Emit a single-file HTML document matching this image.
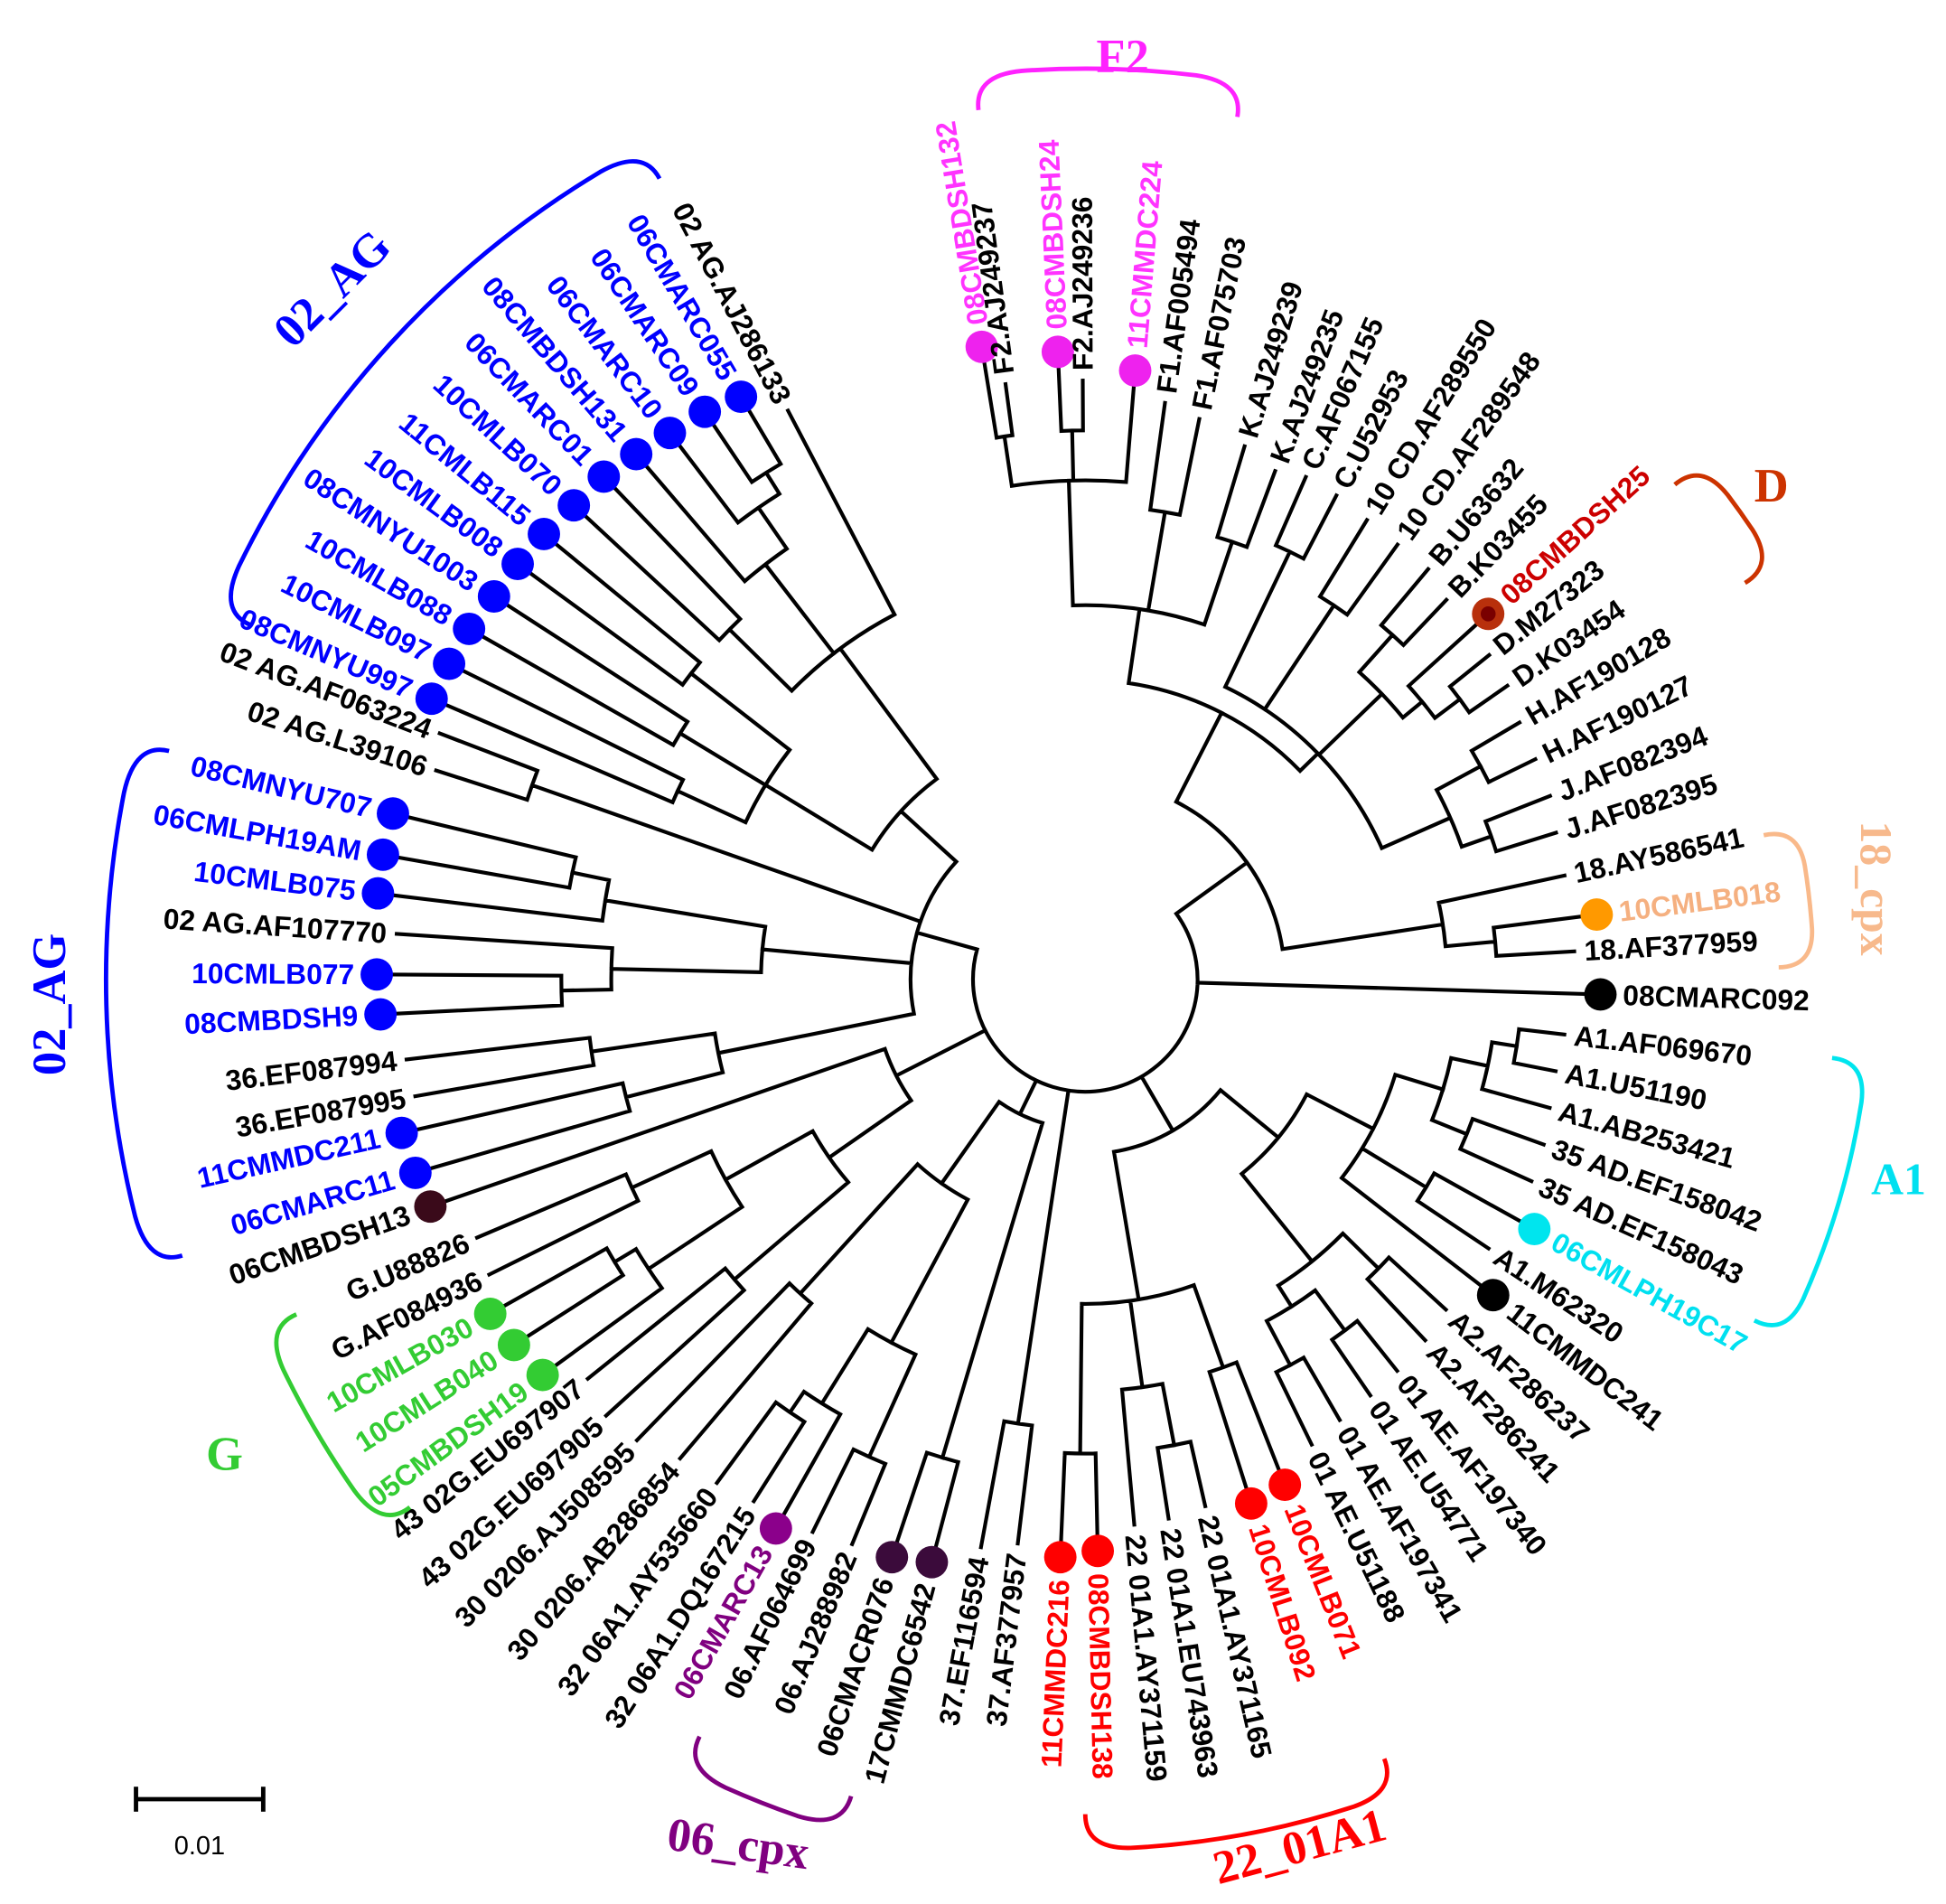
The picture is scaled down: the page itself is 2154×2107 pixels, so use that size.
<!DOCTYPE html>
<html><head><meta charset="utf-8"><style>
html,body{margin:0;padding:0;background:#fff;}
svg{display:block;}
text{font-family:"Liberation Sans",Arial,sans-serif;font-weight:bold;}
.g{font-family:"Liberation Serif","Times New Roman",serif;font-weight:bold;}
</style></head><body>
<svg id="s" xmlns="http://www.w3.org/2000/svg" width="2154" height="2107" viewBox="0 0 1560 1526">
<rect width="1560" height="1526" fill="#fff"/>
<g id="tree" stroke="#000" stroke-width="3" fill="none" stroke-linecap="square"></g>
<g id="dots"></g>
<g id="labels" font-size="23"></g>
<g id="br" fill="none" stroke-width="3.5"></g>
<text class="g" x="900" y="58" font-size="38" fill="#ff22ff" text-anchor="middle">F2</text>
<text class="g" x="1420" y="402" font-size="38" fill="#cc3300" text-anchor="middle">D</text>
<text class="g" x="1492" y="712" font-size="36" fill="#f7b98c" text-anchor="middle" transform="rotate(90 1492 712)">18_cpx</text>
<text class="g" x="1522" y="957" font-size="36" fill="#00e0f0" text-anchor="middle">A1</text>
<text class="g" x="1045" y="1492" font-size="38" fill="#ff0000" text-anchor="middle" transform="rotate(-15 1045 1492)">22_01A1</text>
<text class="g" x="590" y="1490" font-size="38" fill="#800080" text-anchor="middle" transform="rotate(8 590 1490)">06_cpx</text>
<text class="g" x="180" y="1178" font-size="38" fill="#33cc33" text-anchor="middle">G</text>
<text class="g" x="52" y="805" font-size="38" fill="#0000ff" text-anchor="middle" transform="rotate(-90 52 805)">02_AG</text>
<text class="g" x="275" y="240" font-size="38" fill="#0000ff" text-anchor="middle" transform="rotate(-45 275 240)">02_AG</text>
<g stroke="#000" stroke-width="3.5"><line x1="108" y1="1442" x2="212" y2="1442"/><line x1="109" y1="1432" x2="109" y2="1452"/><line x1="211" y1="1432" x2="211" y2="1452"/></g>
<text x="160" y="1486" font-size="21" style="font-weight:normal" text-anchor="middle">0.01</text>
</svg>
<script>
const cx=870,cy=785,NS="http://www.w3.org/2000/svg";
const BL="#0000ff",MG="#ff33ff",RD="#ff0000",GR="#33cc33",K="#000";
const L=[null,
["08CMBDSH132",787,278,MG,"#ee22ee"],["F2.AJ249237",805,300,K],["08CMBDSH24",848,282,MG,"#ee22ee"],["F2.AJ249236",868,297,K],["11CMMDC224",910,297,MG,"#ee22ee"],
["F1.AF005494",935,315,K],["F1.AF075703",963,328,K],["K.AJ249239",1000,350,K],["K.AJ249235",1025,370,K],["C.AF067155",1050,375,K],
["C.U52953",1075,390,K],["10 CD.AF289550",1100,410,K],["10 CD.AF289548",1125,430,K],["B.U63632",1150,450,K],["B.K03455",1165,475,K],
["08CMBDSH25",1193,492,"#cc0000","#b8300c"],["D.M27323",1200,520,K],["D.K03454",1215,545,K],["H.AF190128",1225,575,K],["H.AF190127",1238,605,K],
["J.AF082394",1250,635,K],["J.AF082395",1255,665,K],["18.AY586541",1262,700,K],["10CMLB018",1280,733,"#f5b080","#ff9900"],["18.AF377959",1270,762,K],
["08CMARC092",1283,797,K,"#000"],["A1.AF069670",1262,830,K],["A1.U51190",1255,860,K],["A1.AB253421",1250,890,K],["35 AD.EF158042",1245,920,K],
["35 AD.EF158043",1235,950,K],["06CMLPH19C17",1230,985,"#00e0f0","#00e5ee"],["A1.M62320",1200,1005,K],["11CMMDC241",1197,1038,K,"#000"],["A2.AF286237",1165,1055,K],
["A2.AF286241",1148,1080,K],["01 AE.AF197340",1125,1105,K],["01 AE.U54771",1103,1125,K],["01 AE.AF197341",1078,1145,K],["01 AE.U51188",1055,1165,K],
["10CMLB071",1030,1190,RD,RD],["10CMLB092",1003,1205,RD,RD],["22 01A1.AY371165",968,1215,K],["22 01A1.EU743963",938,1225,K],["22 01A1.AY371159",910,1230,K],
["08CMBDSH138",880,1243,RD,RD],["11CMMDC216",850,1248,RD,RD],["37.AF377957",815,1245,K],["37.EF116594",785,1248,K],["17CMMDC6542",747,1252,K,"#3b0b3b"],
["06CMACR076",715,1248,K,"#3b0b3b"],["06.AJ288982",680,1245,K],["06.AF064699",648,1235,K],["06CMARC13",622,1225,"#800080","#8b008b"],["32 06A1.DQ167215",600,1210,K],
["32 06A1.AY535660",570,1195,K],["30 0206.AB286854",540,1175,K],["30 0206.AJ508595",505,1160,K],["43 02G.EU697905",480,1140,K],["43 02G.EU697907",465,1110,K],
["05CMBDSH19",435,1102,GR,GR],["10CMLB040",412,1078,GR,GR],["10CMLB030",393,1053,GR,GR],["G.AF084936",385,1025,K],["G.U88826",375,995,K],
["06CMBDSH13",345,967,K,"#3a0a1a"],["06CMARC11",333,940,BL,BL],["11CMMDC211",322,908,BL,BL],["36.EF087995",325,880,K],["36.EF087994",318,850,K],
["08CMBDSH9",305,813,BL,BL],["10CMLB077",302,781,BL,BL],["02 AG.AF107770",310,748,K],["10CMLB075",303,716,BL,BL],["06CMLPH19AM",307,685,BL,BL],
["08CMNYU707",315,652,BL,BL],["02 AG.L39106",342,615,K],["02 AG.AF063224",345,585,K],["08CMNYU997",346,560,BL,BL],["10CMLB097",360,532,BL,BL],
["10CMLB088",376,504,BL,BL],["08CMNYU1003",396,478,BL,BL],["10CMLB008",415,452,BL,BL],["11CMLB115",436,428,BL,BL],["10CMLB070",460,405,BL,BL],
["06CMARC01",484,382,BL,BL],["08CMBDSH131",510,364,BL,BL],["06CMARC10",537,347,BL,BL],["06CMARC09",565,330,BL,BL],["06CMARC055",594,318,BL,BL],
["02 AG.AJ286133",628,322,K]];
let prev=-200;const ANG=[],RAD=[];
for(let i=1;i<L.length;i++){let a=Math.atan2(L[i][2]-cy,L[i][1]-cx)*180/Math.PI;while(a<prev)a+=360;prev=a;ANG[i]=a;RAD[i]=Math.hypot(L[i][1]-cx,L[i][2]-cy);}
function pt(r,a){const t=a*Math.PI/180;return [cx+r*Math.cos(t),cy+r*Math.sin(t)];}
let d="";
function line(r1,r2,a){const p=pt(r1,a),q=pt(r2,a);d+=`M${p[0].toFixed(1)},${p[1].toFixed(1)}L${q[0].toFixed(1)},${q[1].toFixed(1)}`;}
function arc(r,a1,a2){const p=pt(r,a1),q=pt(r,a2);d+=`M${p[0].toFixed(1)},${p[1].toFixed(1)}A${r},${r} 0 ${(a2-a1)>180?1:0} 1 ${q[0].toFixed(1)},${q[1].toFixed(1)}`;}
function draw(n,pr){
 if(typeof n==="number"){const tip=RAD[n]-(L[n][4]?13:8);line(pr,tip,ANG[n]);return ANG[n];}
 const r=n[0];const as=n.slice(1).map(c=>draw(c,r));const mn=Math.min(...as),mx=Math.max(...as);
 if(mx>mn)arc(r,mn,mx);const a=(mn+mx)/2;if(pr!==null)line(pr,r,a);return a;}
const A=[160,[240,[300,[400,[440,1,2],[440,3,4],5],[380,6,7],[370,8,9]],[260,[380,10,11],[360,12,13],[330,[370,14,15],[350,16,[375,17,18]]],[320,[360,19,20],[345,21,22]]]],[290,23,[330,24,25]]];
const B=[140,[200,[260,[300,[330,[350,27,28],29],[330,30,31]],[320,32,33],34],[290,[330,35,36],[310,[350,37,38],[350,39,40]]]],[260,[330,41,42],[330,[380,43,44],45],[380,46,47]]];
const C=[360,48,49];
const D=[120,[400,50,51],[200,[330,[420,52,53],[400,54,[420,55,56]]],[340,57,58]]];
const E=[170,[250,[370,59,60],[330,[420,61,[440,62,63]],[400,64,65]]],66];
const F=[140,[300,[380,67,68],[400,69,70]],[260,[380,[420,71,72],73],[390,74,[420,75,76]]],[330,[470,77,78]],[200,[300,[360,79,80],[380,81,82],[400,83,84]],[330,[400,85,86],[420,87,[460,88,[480,89,90]]],91]]];
draw([90,A,26,B,C,D,E,F],null);
const tp=document.createElementNS(NS,"path");tp.setAttribute("d",d);document.getElementById("tree").appendChild(tp);
const dg=document.getElementById("dots"),lg=document.getElementById("labels");
for(let i=1;i<L.length;i++){
 const [nm,x,y,col,dc]=L[i];const a=ANG[i];
 if(dc){const c=document.createElementNS(NS,"circle");c.setAttribute("cx",x);c.setAttribute("cy",y);c.setAttribute("r",13);c.setAttribute("fill",dc);dg.appendChild(c);
  if(i===16){const c2=document.createElementNS(NS,"circle");c2.setAttribute("cx",x);c2.setAttribute("cy",y);c2.setAttribute("r",6);c2.setAttribute("fill","#7a0000");dg.appendChild(c2);}}
 const lr=RAD[i]+(dc?18:0);const p=pt(lr,a);let an=((a%360)+360)%360;
 const t=document.createElementNS(NS,"text");t.textContent=nm;t.setAttribute("fill",col);t.setAttribute("dominant-baseline","central");
 t.setAttribute("x",p[0].toFixed(1));t.setAttribute("y",p[1].toFixed(1));
 if(an>90&&an<252){t.setAttribute("text-anchor","end");t.setAttribute("transform",`rotate(${(an+180).toFixed(2)} ${p[0].toFixed(1)} ${p[1].toFixed(1)})`);}
 else{t.setAttribute("transform",`rotate(${an.toFixed(2)} ${p[0].toFixed(1)} ${p[1].toFixed(1)})`);}
 lg.appendChild(t);}
const bg=document.getElementById("br");
function bracket(r,a1,a2,col){const h=28,s=3;
 const p0=pt(r-h,a1),c0=pt(r,a1),p1=pt(r,a1+s),p2=pt(r,a2-s),c2=pt(r,a2),p3=pt(r-h,a2);
 const f=v=>v.toFixed(1);
 const dd=`M${f(p0[0])},${f(p0[1])}Q${f(c0[0])},${f(c0[1])} ${f(p1[0])},${f(p1[1])}A${r},${r} 0 0 1 ${f(p2[0])},${f(p2[1])}Q${f(c2[0])},${f(c2[1])} ${f(p3[0])},${f(p3[1])}`;
 const pp=document.createElementNS(NS,"path");pp.setAttribute("d",dd);pp.setAttribute("stroke",col);bg.appendChild(pp);}
bracket(730,-97,-80,"#ff22ff");
bracket(645,-40,-31,"#cc3300");
bracket(584,-12,-1,"#f9b98a");
bracket(630,6,27,"#00e5ee");
bracket(697,69,90,"#ff0000");
bracket(709,106,117,"#800080");
bracket(715,142,157,"#33cc33");
bracket(785,163,194,"#0000ff");
bracket(755,203,242,"#0000ff");
</script>
</body></html>
